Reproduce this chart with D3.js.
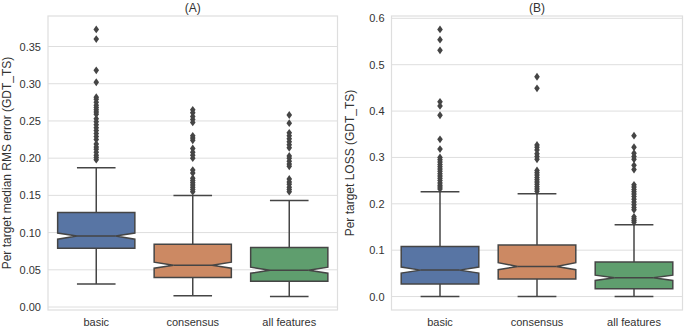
<!DOCTYPE html>
<html>
<head>
<meta charset="utf-8">
<script src="https://cdn.jsdelivr.net/npm/d3@7"></script>
<style>
  body { margin: 0; background: #fff; }
  svg { display: block; font-family: "Liberation Sans", Arial, sans-serif; }
</style>
</head>
<body>
<div id="chart"></div>
<script>
const categories = ['basic', 'consensus', 'all features'];
const boxColors = ['#5875a4', '#cc8963', '#5f9e6e'];

// Panel A: per target median RMS error
const aQ1 = [0.079, 0.0395, 0.0346];
const aQ3 = [0.127, 0.0845, 0.080];
const aMedian = [0.0955, 0.056, 0.0495];
const aNotchLo = [0.0912, 0.0521, 0.0454];
const aNotchHi = [0.0993, 0.0602, 0.0535];
const aWhiskLo = [0.031, 0.015, 0.014];
const aWhiskHi = [0.187, 0.150, 0.143];
const aOutliers = [
  [0.373, 0.360, 0.318, 0.302, 0.282, 0.279, 0.275, 0.271, 0.268, 0.265, 0.262, 0.259, 0.253, 0.249, 0.245,
   0.241, 0.237, 0.233, 0.229, 0.225, 0.219, 0.215, 0.212, 0.208, 0.204, 0.201, 0.198],
  [0.265, 0.261, 0.256, 0.252, 0.248, 0.230, 0.227, 0.224, 0.213, 0.208, 0.204, 0.200, 0.184, 0.180,
   0.173, 0.170, 0.167, 0.164, 0.161, 0.158, 0.155],
  [0.258, 0.247, 0.234, 0.230, 0.226, 0.222, 0.218, 0.214, 0.203, 0.200, 0.196, 0.192, 0.189,
   0.172, 0.168, 0.165, 0.161, 0.158, 0.155]
];
const aTicks = [0.00, 0.05, 0.10, 0.15, 0.20, 0.25, 0.30, 0.35];

// Panel B: per target LOSS
const bQ1 = [0.027, 0.038, 0.0167];
const bQ3 = [0.108, 0.111, 0.0744];
const bMedian = [0.057, 0.065, 0.0405];
const bNotchLo = [0.0507, 0.058, 0.0346];
const bNotchHi = [0.0636, 0.073, 0.0462];
const bWhiskLo = [0.0, 0.0, 0.0];
const bWhiskHi = [0.226, 0.2215, 0.155];
const bOutliers = [
  [0.576, 0.554, 0.531, 0.420, 0.411, 0.391, 0.339, 0.318, 0.300, 0.295, 0.290, 0.285, 0.280, 0.275,
   0.270, 0.265, 0.260, 0.255, 0.250, 0.245, 0.240, 0.236, 0.232],
  [0.474, 0.449, 0.327, 0.322, 0.316, 0.308, 0.302, 0.296, 0.272, 0.267, 0.262, 0.257, 0.252, 0.247,
   0.242, 0.237, 0.232, 0.227],
  [0.347, 0.322, 0.309, 0.302, 0.296, 0.283, 0.274, 0.241, 0.236, 0.231, 0.226, 0.221, 0.216, 0.210,
   0.204, 0.198, 0.192, 0.187, 0.172, 0.168, 0.164, 0.160]
];
const bTicks = [0.0, 0.1, 0.2, 0.3, 0.4, 0.5, 0.6];

const W = 685, H = 329;
const gray = '#454545';
const gridColor = '#dedede';

const svg = d3.select('#chart').append('svg')
  .attr('width', W).attr('height', H);

function drawPanel(opts) {
  const { left, right, top, bottom, domain, ticks, fmt, title, ylabel, ylabelX, data } = opts;

  const x = d3.scaleBand().domain(categories).range([left, right]).paddingInner(0.2).paddingOuter(0.1);
  const y = d3.scaleLinear().domain(domain).range([bottom, top]);
  const g = svg.append('g');

  // grid
  g.append('g').selectAll('line').data(ticks).join('line')
    .attr('x1', left).attr('x2', right)
    .attr('y1', d => y(d)).attr('y2', d => y(d))
    .attr('stroke', gridColor).attr('stroke-width', 1);

  // frame
  g.append('rect')
    .attr('x', left).attr('y', top)
    .attr('width', right - left).attr('height', bottom - top)
    .attr('fill', 'none').attr('stroke', gridColor).attr('stroke-width', 1.2);

  // y axis
  const yAxis = g.append('g')
    .attr('transform', `translate(${left},0)`)
    .call(d3.axisLeft(y).tickValues(ticks).tickFormat(fmt).tickSize(0).tickPadding(7));
  yAxis.select('.domain').remove();
  yAxis.selectAll('text').attr('font-size', 11).attr('fill', '#333')
    .attr('font-family', '"Liberation Sans", Arial, sans-serif');

  // x axis
  const xAxis = g.append('g')
    .attr('transform', `translate(0,${bottom})`)
    .call(d3.axisBottom(x).tickSize(0).tickPadding(8));
  xAxis.select('.domain').remove();
  xAxis.selectAll('text').attr('font-size', 11).attr('fill', '#333')
    .attr('font-family', '"Liberation Sans", Arial, sans-serif');

  // title
  g.append('text')
    .attr('x', (left + right) / 2).attr('y', 12)
    .attr('text-anchor', 'middle')
    .attr('font-size', 12).attr('fill', '#333')
    .text(title);

  // y label
  g.append('text')
    .attr('transform', `translate(${ylabelX},${(top + bottom) / 2}) rotate(-90)`)
    .attr('text-anchor', 'middle')
    .attr('font-size', 12).attr('fill', '#333')
    .text(ylabel);

  categories.forEach((cat, i) => {
    const bw = x.bandwidth();
    const cx = x(cat) + bw / 2;
    const bl = cx - bw / 2, br = cx + bw / 2;
    const nl = cx - bw / 4, nr = cx + bw / 4;
    const capL = cx - bw / 4, capR = cx + bw / 4;

    // whiskers
    g.append('line').attr('x1', cx).attr('x2', cx)
      .attr('y1', y(data.q1[i])).attr('y2', y(data.wlo[i]))
      .attr('stroke', gray).attr('stroke-width', 1.5);
    g.append('line').attr('x1', cx).attr('x2', cx)
      .attr('y1', y(data.q3[i])).attr('y2', y(data.whi[i]))
      .attr('stroke', gray).attr('stroke-width', 1.5);
    [data.wlo[i], data.whi[i]].forEach(v => {
      g.append('line').attr('x1', capL).attr('x2', capR)
        .attr('y1', y(v)).attr('y2', y(v))
        .attr('stroke', gray).attr('stroke-width', 1.5);
    });

    // notched box
    const pts = [
      [bl, data.q1[i]], [br, data.q1[i]], [br, data.nlo[i]], [nr, data.med[i]],
      [br, data.nhi[i]], [br, data.q3[i]], [bl, data.q3[i]], [bl, data.nhi[i]],
      [nl, data.med[i]], [bl, data.nlo[i]]
    ];
    g.append('path')
      .attr('d', d3.line().x(d => d[0]).y(d => y(d[1]))(pts) + 'Z')
      .attr('fill', boxColors[i]).attr('stroke', gray).attr('stroke-width', 1.5)
      .attr('stroke-linejoin', 'miter');

    // median
    g.append('line').attr('x1', nl).attr('x2', nr)
      .attr('y1', y(data.med[i])).attr('y2', y(data.med[i]))
      .attr('stroke', gray).attr('stroke-width', 1.5);

    // outliers (thin diamonds)
    g.append('g').selectAll('path').data(data.out[i]).join('path')
      .attr('transform', d => `translate(${cx},${y(d)})`)
      .attr('d', 'M0,-3.9L2.8,0L0,3.9L-2.8,0Z')
      .attr('fill', gray);
  });
}

drawPanel({
  left: 48, right: 337.5, top: 16, bottom: 310,
  domain: [-0.004, 0.391], ticks: aTicks, fmt: d3.format('.2f'),
  title: '(A)', ylabel: 'Per target median RMS error (GDT_TS)', ylabelX: 11,
  data: { q1: aQ1, q3: aQ3, med: aMedian, nlo: aNotchLo, nhi: aNotchHi,
          wlo: aWhiskLo, whi: aWhiskHi, out: aOutliers }
});

drawPanel({
  left: 391.5, right: 682.5, top: 16, bottom: 310,
  domain: [-0.029, 0.605], ticks: bTicks, fmt: d3.format('.1f'),
  title: '(B)', ylabel: 'Per target LOSS (GDT_TS)', ylabelX: 354,
  data: { q1: bQ1, q3: bQ3, med: bMedian, nlo: bNotchLo, nhi: bNotchHi,
          wlo: bWhiskLo, whi: bWhiskHi, out: bOutliers }
});
</script>
</body>
</html>
